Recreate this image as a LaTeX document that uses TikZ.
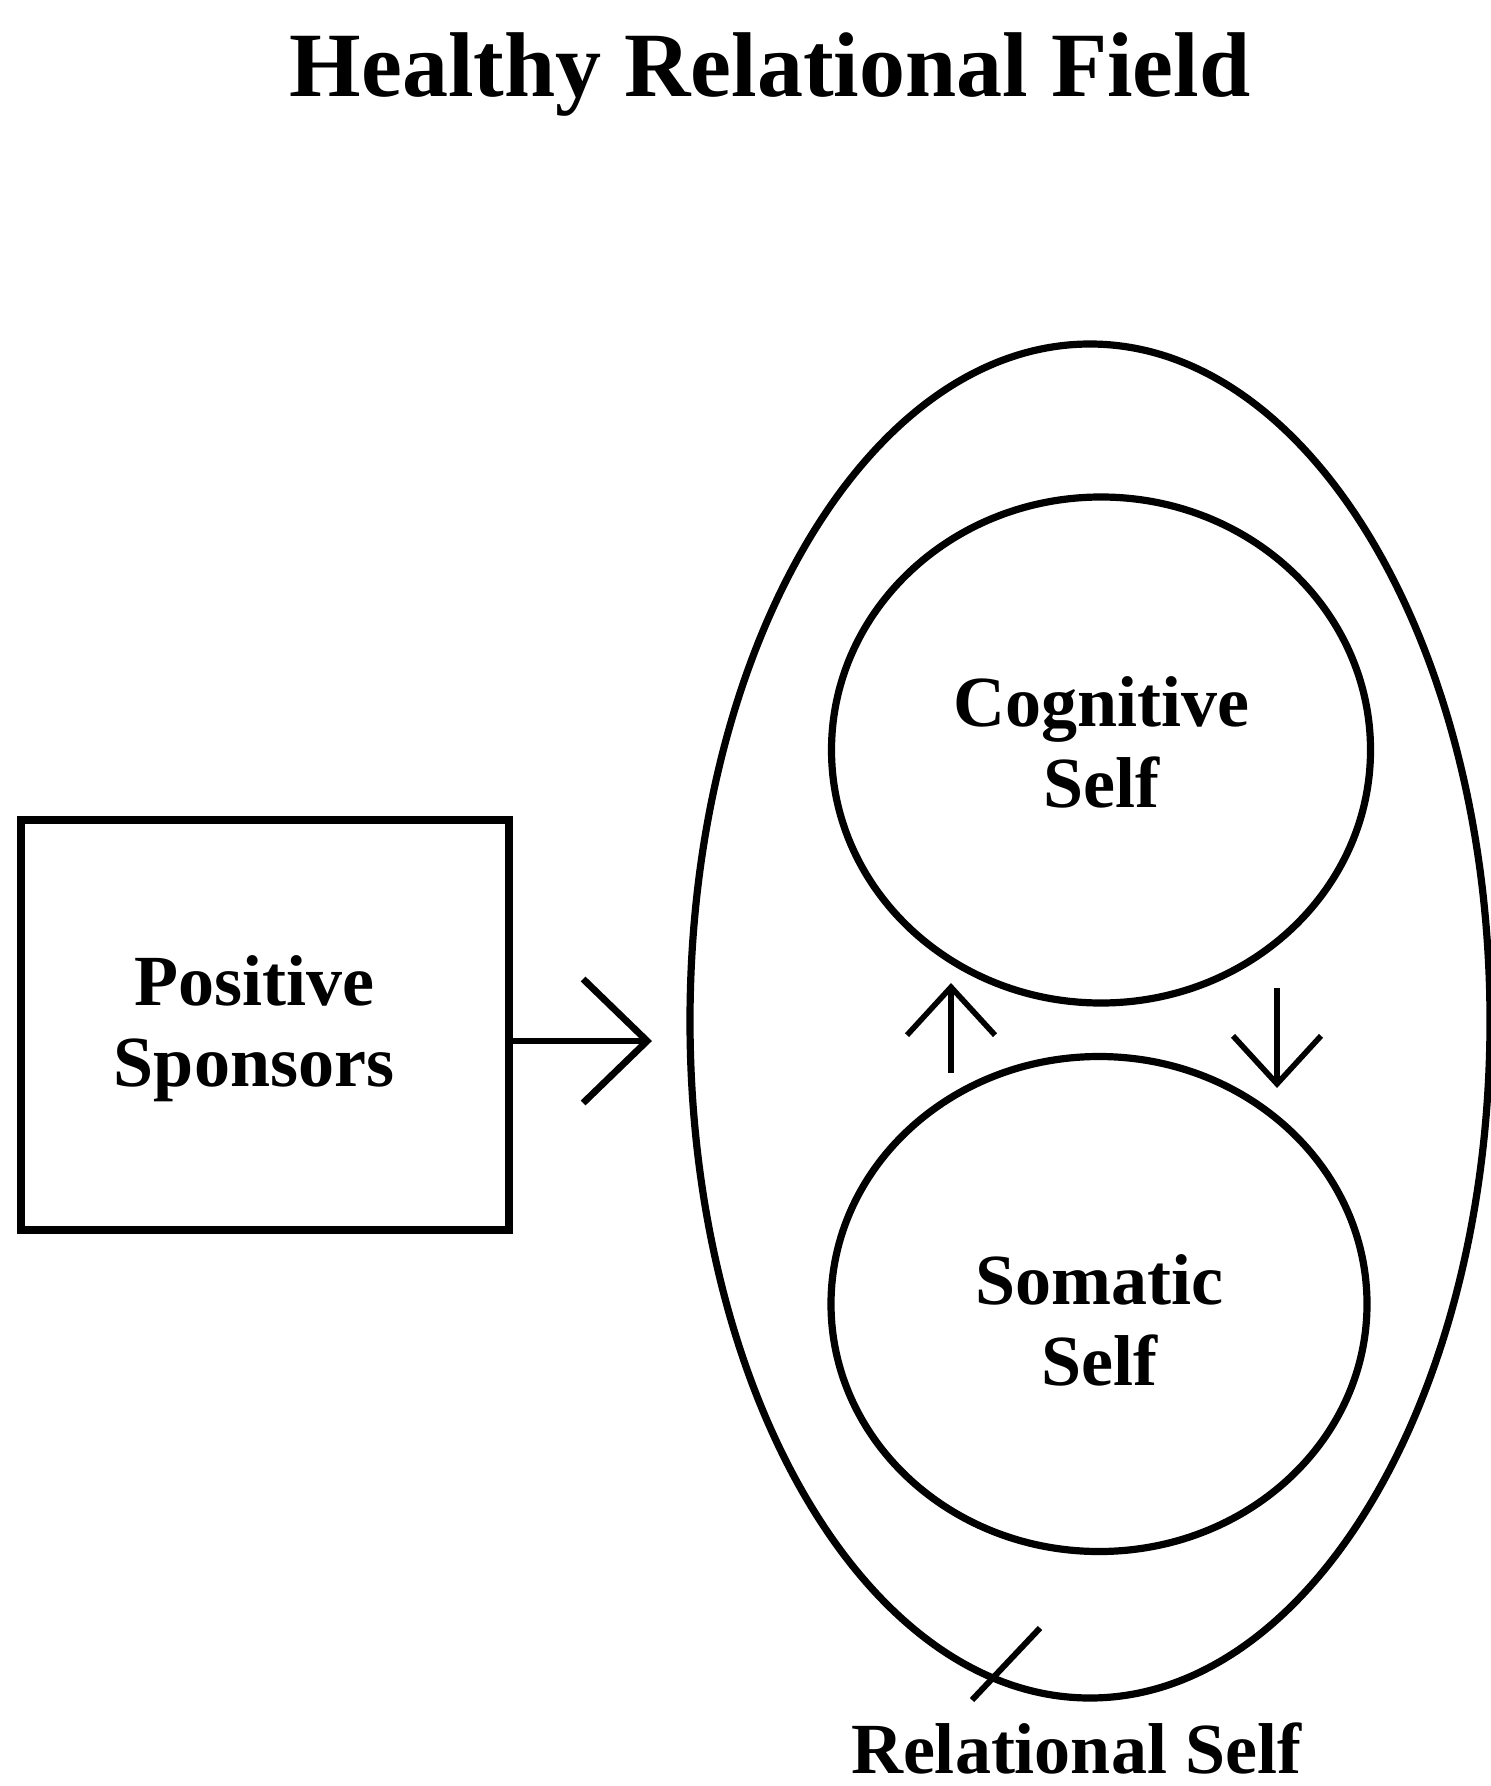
\documentclass[tikz,border=0pt]{standalone}
\usepackage{fontspec}
\setmainfont{Liberation Serif}
\usetikzlibrary{shapes.geometric,arrows.meta}
\begin{document}
\begin{tikzpicture}[x=0.5pt,y=-0.5pt,
  bodyfont/.style={font=\fontsize{36}{40.5}\selectfont\bfseries},
  caption/.style={align=center,bodyfont},
  selfshape/.style={draw,ellipse,line width=3.6pt,inner sep=0pt},
  bigarrow/.style={line width=3.4pt,-{Straight Barb[length=32pt,width=62pt,line width=3.4pt]}},
  smallarrow/.style={line width=2.8pt,-{Straight Barb[length=24pt,width=44pt,line width=2.8pt]}}]
\useasboundingbox (0,0) rectangle (1491,1786);
% title
\node[anchor=base,font=\fontsize{46}{55}\selectfont\bfseries] (title) at (770,97) {Healthy Relational Field};
% sponsors box
\node[draw,line width=4pt,minimum width=244pt,minimum height=205pt,inner sep=0pt] (sponsors) at (265,1025) {};
\node[caption,xshift=-5.5pt,yshift=-2pt] (sponsorsText) at (sponsors.center) {Positive\\Sponsors};
% relational field and the two selves
\node[draw,ellipse,line width=3.6pt,minimum width=400pt,minimum height=677pt,inner sep=0pt] (relational) at (1090,1021) {};
\node[selfshape,minimum width=269.5pt,minimum height=253pt] (cognitive) at (1101,750) {};
\node[caption,yshift=4pt] (cognitiveText) at (cognitive.center) {Cognitive\\Self};
\node[selfshape,minimum width=268pt,minimum height=247.5pt] (somatic) at (1099,1304) {};
\node[caption,yshift=-8pt] (somaticText) at (somatic.center) {Somatic\\Self};
% connectors
\coordinate (intoField) at (652,1041);
\draw[bigarrow] (sponsors.east |- intoField) -- (intoField);
\coordinate (upFrom) at (951,1073);
\coordinate (upTo) at (951,983);
\draw[smallarrow] (upFrom) -- (upTo);
\coordinate (downFrom) at (1277,988);
\coordinate (downTo) at (1277,1088);
\draw[smallarrow] (downFrom) -- (downTo);
% label pointer for the relational self
\coordinate (tickA) at (972,1700);
\coordinate (tickB) at (1040,1628);
\draw[line width=3pt] (tickA) -- (tickB);
\node[anchor=base,bodyfont] (relLabel) at (1076,1773) {Relational Self};
\end{tikzpicture}
\end{document}
